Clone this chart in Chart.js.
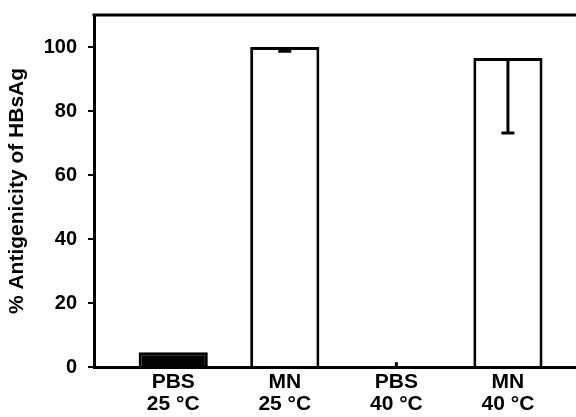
<!DOCTYPE html>
<html>
<head>
<meta charset="utf-8">
<script src="https://cdn.jsdelivr.net/npm/chart.js@4"></script>
<style>
  body { margin: 0; background: #fff; }
</style>
</head>
<body>
<canvas id="myChart" width="576" height="417"></canvas>
<script>
var categories = [["PBS", "25 °C"], ["MN", "25 °C"], ["PBS", "40 °C"], ["MN", "40 °C"]];
var values = [4.6, 100, 0, 96.6];
var errDown = [0, 1.3, 0, 23.5];
var errUp = [0, 0, 1.5, 0];
var barColors = ["#000000", "#ffffff", "#ffffff", "#ffffff"];
var yTicks = [0, 20, 40, 60, 80, 100];

var points = categories.map(function (c, i) {
  return { x: i + 1, y: values[i] };
});

// error bars + top frame line
var extras = {
  id: "extras",
  afterDatasetsDraw: function (chart) {
    var ctx = chart.ctx;
    var xs = chart.scales.x;
    var ys = chart.scales.y;
    var area = chart.chartArea;
    ctx.save();
    ctx.strokeStyle = "#000";
    ctx.lineWidth = 3;
    for (var i = 0; i < values.length; i++) {
      var x = xs.getPixelForValue(i + 1);
      var y0 = ys.getPixelForValue(values[i]);
      if (errDown[i] > 0) {
        var y1 = ys.getPixelForValue(values[i] - errDown[i]);
        ctx.beginPath();
        ctx.moveTo(x, y0);
        ctx.lineTo(x, y1);
        ctx.moveTo(x - 6.5, y1);
        ctx.lineTo(x + 6.5, y1);
        ctx.stroke();
      }
      if (errUp[i] > 0) {
        var y2 = ys.getPixelForValue(values[i] + errUp[i]);
        ctx.beginPath();
        ctx.moveTo(x, y0);
        ctx.lineTo(x, y2);
        ctx.stroke();
      }
    }
    ctx.beginPath();
    ctx.moveTo(area.left - 1.5, area.top);
    ctx.lineTo(576, area.top);
    ctx.stroke();
    ctx.restore();
  }
};

new Chart("myChart", {
  type: "bar",
  data: {
    datasets: [{
      data: points,
      backgroundColor: barColors,
      borderColor: "#000",
      borderWidth: 3,
      barPercentage: 0.62,
      categoryPercentage: 1
    }]
  },
  options: {
    responsive: false,
    animation: false,
    layout: { padding: { top: 15, right: 0, left: 0, bottom: 0 } },
    plugins: {
      legend: { display: false },
      tooltip: { enabled: false }
    },
    scales: {
      x: {
        type: "linear",
        offset: false,
        min: 0.29,
        max: 4.61,
        grid: { display: false, drawTicks: false, offset: false },
        border: { display: true, color: "#000", width: 3 },
        afterBuildTicks: function (scale) {
          scale.ticks = categories.map(function (c, i) { return { value: i + 1 }; });
        },
        afterFit: function (scale) {
          scale.height = 50;
          scale.paddingLeft = 0;
          scale.paddingRight = 0;
        },
        ticks: {
          padding: 4,
          color: "#000",
          maxRotation: 0,
          autoSkip: false,
          font: { family: "Liberation Sans", weight: "bold", size: 21, lineHeight: 1.05 },
          callback: function (v) { return categories[v - 1]; }
        }
      },
      y: {
        min: 0,
        max: 110,
        grid: { display: true, drawOnChartArea: false, color: "#000", lineWidth: 2, tickLength: 6 },
        border: { display: true, color: "#000", width: 3 },
        afterBuildTicks: function (scale) {
          scale.ticks = yTicks.map(function (v) { return { value: v }; });
        },
        afterFit: function (scale) {
          scale.width = 94;
          scale.paddingTop = 0;
          scale.paddingBottom = 0;
        },
        ticks: {
          padding: 11,
          color: "#000",
          font: { family: "Liberation Sans", weight: "bold", size: 20 }
        },
        title: {
          display: true,
          text: "% Antigenicity of HBsAg",
          color: "#000",
          padding: { top: 5, bottom: 0 },
          font: { family: "Liberation Sans", weight: "bold", size: 21 }
        }
      }
    }
  },
  plugins: [extras]
});
</script>
</body>
</html>
